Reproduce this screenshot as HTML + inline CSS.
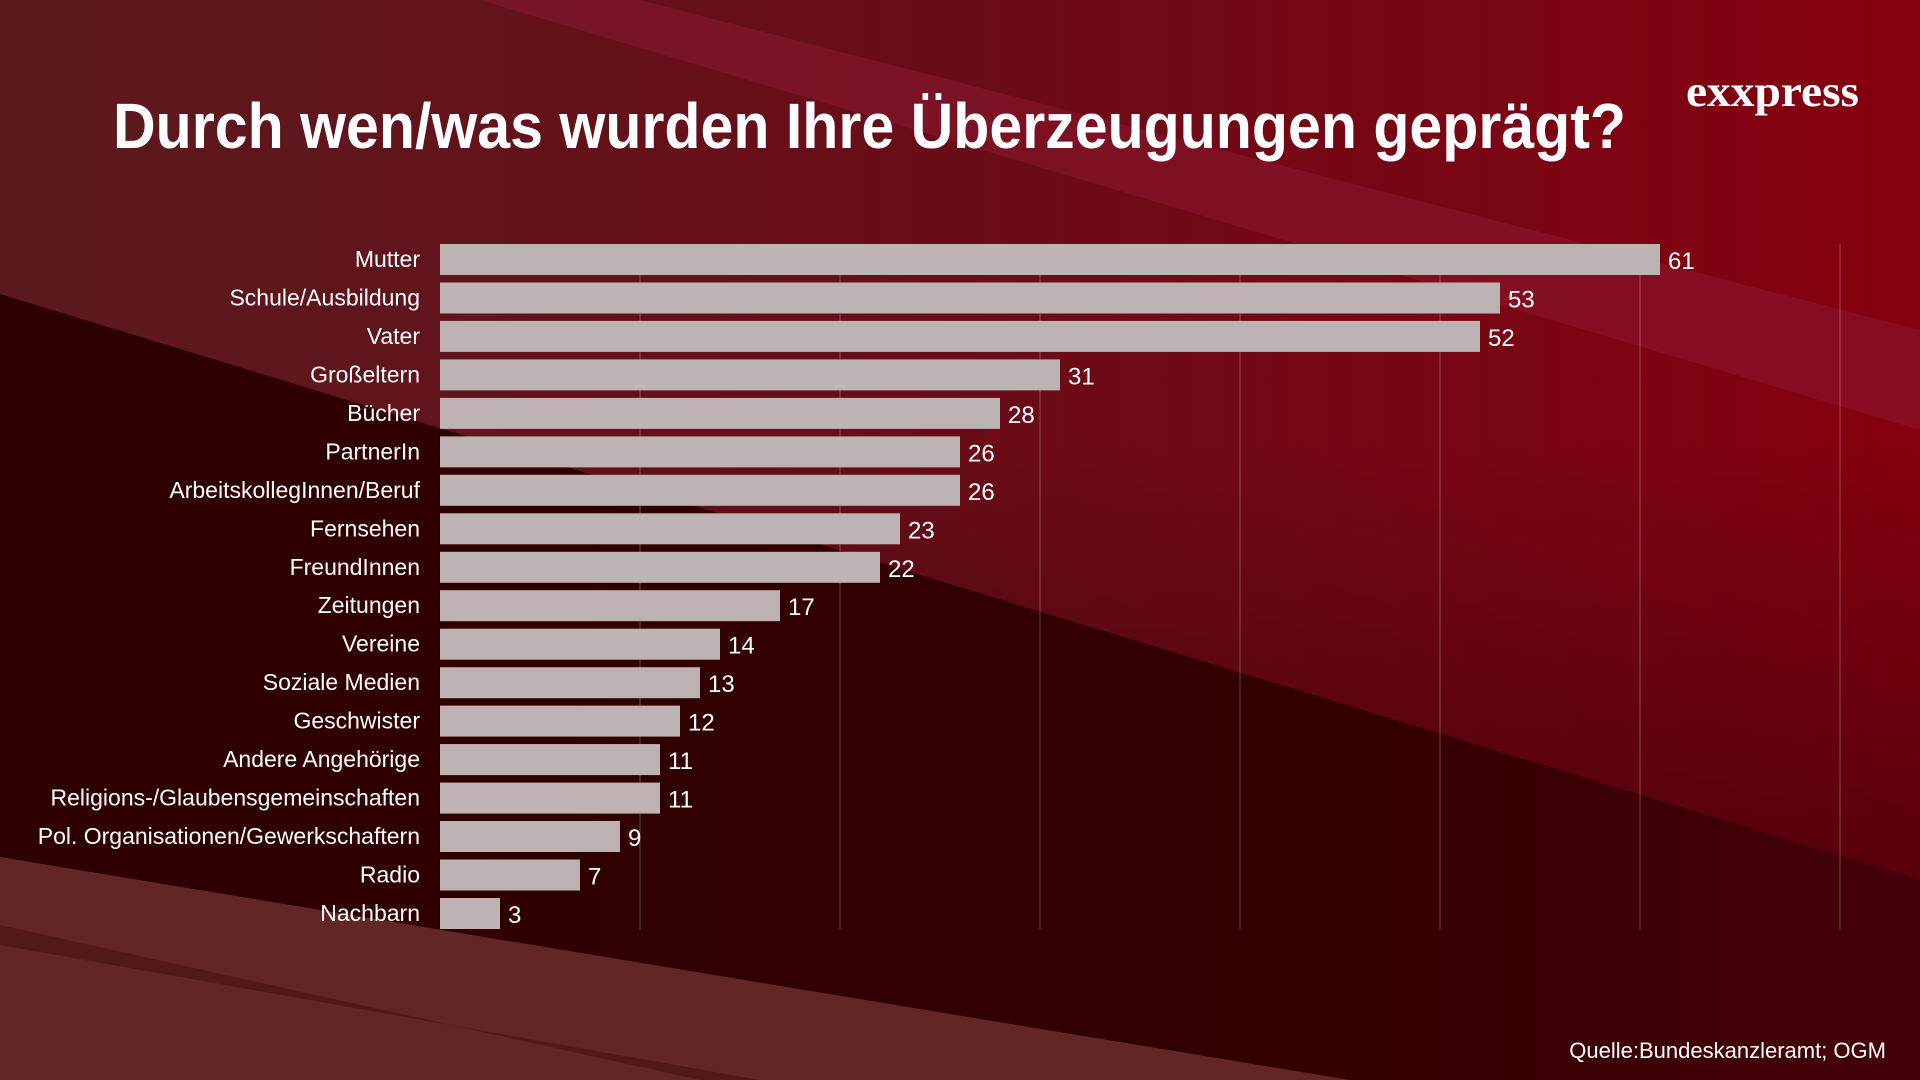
<!DOCTYPE html>
<html><head><meta charset="utf-8"><style>html,body{margin:0;padding:0;background:#2e0000}svg{display:block}</style></head>
<body>
<svg width="1920" height="1080" viewBox="0 0 1920 1080" xmlns="http://www.w3.org/2000/svg" font-family="Liberation Sans, sans-serif">
<defs>
<linearGradient id="top" x1="0" y1="0" x2="1" y2="0">
<stop offset="0" stop-color="#5a1a1e"/><stop offset="0.5" stop-color="#6a0c18"/><stop offset="1" stop-color="#860010"/>
</linearGradient>
<linearGradient id="shade" x1="0" y1="0" x2="0" y2="1">
<stop offset="0" stop-color="#000" stop-opacity="0"/><stop offset="0.5" stop-color="#000" stop-opacity="0"/><stop offset="1" stop-color="#000" stop-opacity="0.35"/>
</linearGradient>
<linearGradient id="bot" x1="0" y1="0" x2="1" y2="0">
<stop offset="0" stop-color="#2e0000"/><stop offset="0.7" stop-color="#340000"/><stop offset="1" stop-color="#440008"/>
</linearGradient>
</defs>
<rect width="1920" height="1080" fill="url(#bot)"/>
<polygon points="0,0 1920,0 1920,880 0,294" fill="url(#top)"/>
<polygon points="0,0 1920,0 1920,880 0,294" fill="url(#shade)"/>
<polygon points="480,0 640,0 1920,330 1920,430" fill="#8e1832" opacity="0.5"/>
<polygon points="0,857 1350,1080 0,1080" fill="#622626"/>
<polygon points="0,925 0,945 760,1080 700,1080" fill="#4a1414" opacity="0.7"/>
<text x="113" y="148" font-size="64" font-weight="bold" fill="#fff" textLength="1513" lengthAdjust="spacingAndGlyphs">Durch wen/was wurden Ihre Überzeugungen geprägt?</text>
<text x="1686" y="106" font-family="Liberation Serif, serif" font-size="44" font-weight="bold" fill="#fff" textLength="173" lengthAdjust="spacingAndGlyphs">exxpress</text>
<g stroke="#ffffff" stroke-opacity="0.18" stroke-width="1.5">
<line x1="640" y1="244" x2="640" y2="930"/><line x1="840" y1="244" x2="840" y2="930"/><line x1="1040" y1="244" x2="1040" y2="930"/><line x1="1240" y1="244" x2="1240" y2="930"/><line x1="1440" y1="244" x2="1440" y2="930"/><line x1="1640" y1="244" x2="1640" y2="930"/><line x1="1840" y1="244" x2="1840" y2="930"/>
</g>
<text x="1886" y="1058" font-size="22" fill="#fff" text-anchor="end">Quelle:Bundeskanzleramt; OGM</text>
<g font-size="23" fill="#fff">
<rect x="440" y="244" width="1220" height="31" fill="#bdb3b2"/><text x="420" y="267" text-anchor="end">Mutter</text><text x="1668" y="269" font-size="24">61</text>
<rect x="440" y="282.5" width="1060" height="31" fill="#bdb3b2"/><text x="420" y="305.5" text-anchor="end">Schule/Ausbildung</text><text x="1508" y="307.5" font-size="24">53</text>
<rect x="440" y="320.9" width="1040" height="31" fill="#bdb3b2"/><text x="420" y="343.9" text-anchor="end">Vater</text><text x="1488" y="345.9" font-size="24">52</text>
<rect x="440" y="359.4" width="620" height="31" fill="#bdb3b2"/><text x="420" y="382.4" text-anchor="end">Großeltern</text><text x="1068" y="384.4" font-size="24">31</text>
<rect x="440" y="397.9" width="560" height="31" fill="#bdb3b2"/><text x="420" y="420.9" text-anchor="end">Bücher</text><text x="1008" y="422.9" font-size="24">28</text>
<rect x="440" y="436.4" width="520" height="31" fill="#bdb3b2"/><text x="420" y="459.4" text-anchor="end">PartnerIn</text><text x="968" y="461.4" font-size="24">26</text>
<rect x="440" y="474.8" width="520" height="31" fill="#bdb3b2"/><text x="420" y="497.8" text-anchor="end">ArbeitskollegInnen/Beruf</text><text x="968" y="499.8" font-size="24">26</text>
<rect x="440" y="513.3" width="460" height="31" fill="#bdb3b2"/><text x="420" y="536.3" text-anchor="end">Fernsehen</text><text x="908" y="538.3" font-size="24">23</text>
<rect x="440" y="551.8" width="440" height="31" fill="#bdb3b2"/><text x="420" y="574.8" text-anchor="end">FreundInnen</text><text x="888" y="576.8" font-size="24">22</text>
<rect x="440" y="590.2" width="340" height="31" fill="#bdb3b2"/><text x="420" y="613.2" text-anchor="end">Zeitungen</text><text x="788" y="615.2" font-size="24">17</text>
<rect x="440" y="628.7" width="280" height="31" fill="#bdb3b2"/><text x="420" y="651.7" text-anchor="end">Vereine</text><text x="728" y="653.7" font-size="24">14</text>
<rect x="440" y="667.2" width="260" height="31" fill="#bdb3b2"/><text x="420" y="690.2" text-anchor="end">Soziale Medien</text><text x="708" y="692.2" font-size="24">13</text>
<rect x="440" y="705.6" width="240" height="31" fill="#bdb3b2"/><text x="420" y="728.6" text-anchor="end">Geschwister</text><text x="688" y="730.6" font-size="24">12</text>
<rect x="440" y="744.1" width="220" height="31" fill="#bdb3b2"/><text x="420" y="767.1" text-anchor="end">Andere Angehörige</text><text x="668" y="769.1" font-size="24">11</text>
<rect x="440" y="782.6" width="220" height="31" fill="#bdb3b2"/><text x="420" y="805.6" text-anchor="end">Religions-/Glaubensgemeinschaften</text><text x="668" y="807.6" font-size="24">11</text>
<rect x="440" y="821" width="180" height="31" fill="#bdb3b2"/><text x="420" y="844" text-anchor="end">Pol. Organisationen/Gewerkschaftern</text><text x="628" y="846" font-size="24">9</text>
<rect x="440" y="859.5" width="140" height="31" fill="#bdb3b2"/><text x="420" y="882.5" text-anchor="end">Radio</text><text x="588" y="884.5" font-size="24">7</text>
<rect x="440" y="898" width="60" height="31" fill="#bdb3b2"/><text x="420" y="921" text-anchor="end">Nachbarn</text><text x="508" y="923" font-size="24">3</text>
</g>
</svg>
</body></html>
